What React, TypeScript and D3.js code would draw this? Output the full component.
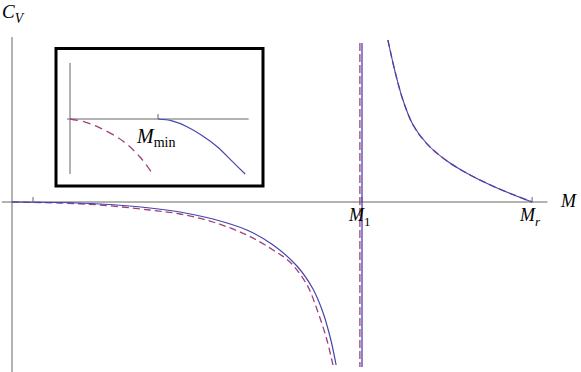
import React, { useEffect, useRef } from 'react';
import * as d3 from 'd3';

// main plot: M in units of M1, C_V in arbitrary units
const leftSolid: [number, number][] = [
  [0, 0], [0.137, -0.005], [0.251, -0.02], [0.394, -0.06], [0.48, -0.1], [0.574, -0.17],
  [0.671, -0.28], [0.746, -0.43], [0.814, -0.64], [0.86, -0.87], [0.889, -1.11],
  [0.911, -1.38], [0.926, -1.63],
];
const leftDashed: [number, number][] = [
  [0, 0], [0.137, -0.01], [0.251, -0.03], [0.394, -0.08], [0.48, -0.12], [0.574, -0.2],
  [0.671, -0.33], [0.746, -0.48], [0.794, -0.6], [0.843, -0.83], [0.874, -1.1],
  [0.899, -1.37], [0.917, -1.63],
];
const rightBranch: [number, number][] = [
  [1.074, 1.62], [1.094, 1.31], [1.117, 1.02], [1.146, 0.77], [1.186, 0.58], [1.243, 0.41],
  [1.309, 0.27], [1.386, 0.14], [1.486, 0],
];
const asymptoteSolid = 1.0;
const asymptoteDashed = 0.994;
const tickM = [0.06, 1.0, 1.486];

// inset: M in units of M_min
const insetSolid: [number, number][] = [
  [1, 0], [1.16, -0.035], [1.33, -0.14], [1.5, -0.3], [1.67, -0.5], [1.85, -0.78], [1.99, -1.0],
];
const insetDashed: [number, number][] = [
  [0, 0], [0.17, -0.055], [0.34, -0.16], [0.6, -0.4], [0.795, -0.69], [0.94, -1.0],
];

const BLUE = '#4444b0';
const PURPLE = '#a0407a';
const AXIS = '#666';
const SERIF = '"Liberation Serif", "DejaVu Serif", serif';

const App = () => {
  const ref = useRef<SVGSVGElement>(null);

  useEffect(() => {
    const svg = d3.select(ref.current);
    svg.selectAll('*').remove();

    const x = d3.scaleLinear().domain([0, 1]).range([12, 362]);
    const y = d3.scaleLinear().domain([0, 1]).range([202, 102]);
    const line = d3.line<[number, number]>()
      .x(d => x(d[0])).y(d => y(d[1]))
      .curve(d3.curveCatmullRom.alpha(0.5));

    // axes
    svg.append('line').attr('x1', x(-0.029)).attr('x2', x(1.53))
      .attr('y1', y(0)).attr('y2', y(0)).attr('stroke', AXIS);
    svg.append('line').attr('x1', x(0)).attr('x2', x(0))
      .attr('y1', y(1.65)).attr('y2', 372).attr('stroke', AXIS);
    svg.selectAll('.tick').data(tickM).enter().append('line')
      .attr('x1', d => x(d)).attr('x2', d => x(d))
      .attr('y1', y(0)).attr('y2', y(0) - 5).attr('stroke', AXIS);

    // curves
    svg.append('path').attr('d', line(leftDashed)).attr('fill', 'none')
      .attr('stroke', PURPLE).attr('stroke-width', 1.3).attr('stroke-dasharray', '7,4');
    svg.append('path').attr('d', line(leftSolid)).attr('fill', 'none')
      .attr('stroke', BLUE).attr('stroke-width', 1.2);
    svg.append('path').attr('d', line(rightBranch)).attr('fill', 'none')
      .attr('stroke', PURPLE).attr('stroke-width', 1.4).attr('stroke-dasharray', '7,4');
    svg.append('path').attr('d', line(rightBranch)).attr('fill', 'none')
      .attr('stroke', BLUE).attr('stroke-width', 1.1);

    svg.append('line').attr('x1', x(asymptoteDashed)).attr('x2', x(asymptoteDashed))
      .attr('y1', y(1.59)).attr('y2', y(-1.65)).attr('stroke', PURPLE)
      .attr('stroke-width', 1.3).attr('stroke-dasharray', '8,3');
    svg.append('line').attr('x1', x(asymptoteSolid)).attr('x2', x(asymptoteSolid))
      .attr('y1', y(1.59)).attr('y2', y(-1.65)).attr('stroke', BLUE).attr('stroke-width', 1.3);

    // labels
    const label = (tx: number, ty: number, main: string, sub: string, subItalic: boolean, size: number) => {
      const t = svg.append('text').attr('x', tx).attr('y', ty)
        .attr('font-family', SERIF).attr('font-size', size);
      t.append('tspan').attr('font-style', 'italic').text(main);
      t.append('tspan').attr('font-style', subItalic ? 'italic' : 'normal')
        .attr('font-size', size * 0.72).attr('dy', size * 0.25).text(sub);
    };
    label(2, 18, 'C', 'V', true, 19);
    label(349, 221, 'M', '1', false, 18);
    label(520, 221, 'M', 'r', true, 18);
    svg.append('text').attr('x', 561).attr('y', 207).attr('font-family', SERIF)
      .attr('font-style', 'italic').attr('font-size', 18).text('M');

    // inset
    const g = svg.append('g');
    g.append('rect').attr('x', 56).attr('y', 48.5).attr('width', 207).attr('height', 137.5)
      .attr('fill', 'white').attr('stroke', 'black').attr('stroke-width', 3);
    const ix = d3.scaleLinear().domain([0, 1]).range([70, 158]);
    const iy = d3.scaleLinear().domain([0, -1]).range([119, 174]);
    const iline = d3.line<[number, number]>()
      .x(d => ix(d[0])).y(d => iy(d[1]))
      .curve(d3.curveCatmullRom.alpha(0.5));
    g.append('line').attr('x1', ix(-0.034)).attr('x2', ix(2.03))
      .attr('y1', iy(0)).attr('y2', iy(0)).attr('stroke', AXIS);
    g.append('line').attr('x1', ix(0)).attr('x2', ix(0))
      .attr('y1', iy(1.02)).attr('y2', iy(-1)).attr('stroke', AXIS);
    g.append('line').attr('x1', ix(1)).attr('x2', ix(1))
      .attr('y1', iy(0)).attr('y2', iy(0) - 5).attr('stroke', AXIS);
    g.append('path').attr('d', iline(insetDashed)).attr('fill', 'none')
      .attr('stroke', PURPLE).attr('stroke-width', 1.3).attr('stroke-dasharray', '8,5');
    g.append('path').attr('d', iline(insetSolid)).attr('fill', 'none')
      .attr('stroke', BLUE).attr('stroke-width', 1.2);
    const t = g.append('text').attr('x', 137).attr('y', 143)
      .attr('font-family', SERIF).attr('font-size', 20);
    t.append('tspan').attr('font-style', 'italic').text('M');
    t.append('tspan').attr('font-size', 14).attr('dy', 4).text('min');
  }, []);

  return (
    <svg ref={ref} width={581} height={372}
      style={{ position: 'absolute', left: 0, top: 0, background: 'white' }} />
  );
};

export default App;
